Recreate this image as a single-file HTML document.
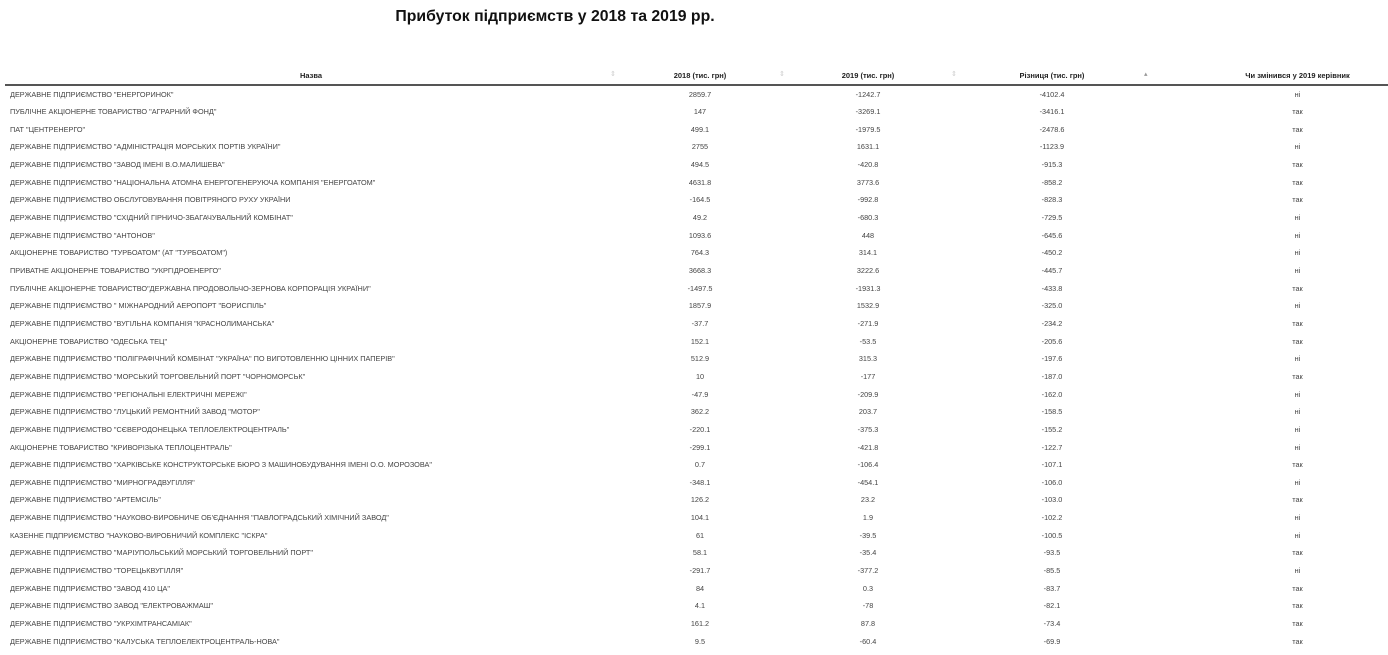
<!DOCTYPE html>
<html><head><meta charset="utf-8"><style>
body{margin:0;width:1388px;height:655px;background:#fff;font-family:"Liberation Sans",sans-serif;overflow:hidden;position:relative;color:#333}
.t{position:absolute;left:0;width:1110px;top:8px;text-align:center;font-size:15.8px;font-weight:bold;color:#111}
.h{position:absolute;top:71px;font-size:7.5px;font-weight:bold;color:#222;text-align:center}
.line{position:absolute;left:5px;right:0;top:84px;height:2px;background:#555}
.r{position:absolute;left:0;width:1388px;height:12px;font-size:7.3px;color:#444}
.r span{position:absolute;top:0;white-space:nowrap}
.c{text-align:center}
.s{position:absolute;top:70px;font-size:7px;color:#ccc}
</style></head><body>
<div class="t">Прибуток підприємств у 2018 та 2019 рр.</div>
<div class="h" style="left:5px;width:612px">Назва</div>
<div class="h" style="left:617px;width:166px">2018 (тис. грн)</div>
<div class="h" style="left:785px;width:166px">2019 (тис. грн)</div>
<div class="h" style="left:955px;width:194px">Різниця (тис. грн)</div>
<div class="h" style="left:1200px;width:195px">Чи змінився у 2019 керівник</div>
<div class="s" style="left:610px">⇕</div><div class="s" style="left:779px">⇕</div><div class="s" style="left:951px">⇕</div><div class="s" style="left:1144px;color:#999">▴</div>
<div class="line"></div>
<div id="rows"></div>
<script>
var d=[["ДЕРЖАВНЕ ПІДПРИЄМСТВО \"ЕНЕРГОРИНОК\"","2859.7","-1242.7","-4102.4","ні"],
["ПУБЛІЧНЕ АКЦІОНЕРНЕ ТОВАРИСТВО \"АГРАРНИЙ ФОНД\"","147","-3269.1","-3416.1","так"],
["ПАТ \"ЦЕНТРЕНЕРГО\"","499.1","-1979.5","-2478.6","так"],
["ДЕРЖАВНЕ ПІДПРИЄМСТВО \"АДМІНІСТРАЦІЯ МОРСЬКИХ ПОРТІВ УКРАЇНИ\"","2755","1631.1","-1123.9","ні"],
["ДЕРЖАВНЕ ПІДПРИЄМСТВО \"ЗАВОД ІМЕНІ В.О.МАЛИШЕВА\"","494.5","-420.8","-915.3","так"],
["ДЕРЖАВНЕ ПІДПРИЄМСТВО \"НАЦІОНАЛЬНА АТОМНА ЕНЕРГОГЕНЕРУЮЧА КОМПАНІЯ \"ЕНЕРГОАТОМ\"","4631.8","3773.6","-858.2","так"],
["ДЕРЖАВНЕ ПІДПРИЄМСТВО ОБСЛУГОВУВАННЯ ПОВІТРЯНОГО РУХУ УКРАЇНИ","-164.5","-992.8","-828.3","так"],
["ДЕРЖАВНЕ ПІДПРИЄМСТВО \"СХІДНИЙ ГІРНИЧО-ЗБАГАЧУВАЛЬНИЙ КОМБІНАТ\"","49.2","-680.3","-729.5","ні"],
["ДЕРЖАВНЕ ПІДПРИЄМСТВО \"АНТОНОВ\"","1093.6","448","-645.6","ні"],
["АКЦІОНЕРНЕ ТОВАРИСТВО \"ТУРБОАТОМ\" (АТ \"ТУРБОАТОМ\")","764.3","314.1","-450.2","ні"],
["ПРИВАТНЕ АКЦІОНЕРНЕ ТОВАРИСТВО \"УКРГІДРОЕНЕРГО\"","3668.3","3222.6","-445.7","ні"],
["ПУБЛІЧНЕ АКЦІОНЕРНЕ ТОВАРИСТВО\"ДЕРЖАВНА ПРОДОВОЛЬЧО-ЗЕРНОВА КОРПОРАЦІЯ УКРАЇНИ\"","-1497.5","-1931.3","-433.8","так"],
["ДЕРЖАВНЕ ПІДПРИЄМСТВО \" МІЖНАРОДНИЙ АЕРОПОРТ \"БОРИСПІЛЬ\"","1857.9","1532.9","-325.0","ні"],
["ДЕРЖАВНЕ ПІДПРИЄМСТВО \"ВУГІЛЬНА КОМПАНІЯ \"КРАСНОЛИМАНСЬКА\"","-37.7","-271.9","-234.2","так"],
["АКЦІОНЕРНЕ ТОВАРИСТВО \"ОДЕСЬКА ТЕЦ\"","152.1","-53.5","-205.6","так"],
["ДЕРЖАВНЕ ПІДПРИЄМСТВО \"ПОЛІГРАФІЧНИЙ КОМБІНАТ \"УКРАЇНА\" ПО ВИГОТОВЛЕННЮ ЦІННИХ ПАПЕРІВ\"","512.9","315.3","-197.6","ні"],
["ДЕРЖАВНЕ ПІДПРИЄМСТВО \"МОРСЬКИЙ ТОРГОВЕЛЬНИЙ ПОРТ \"ЧОРНОМОРСЬК\"","10","-177","-187.0","так"],
["ДЕРЖАВНЕ ПІДПРИЄМСТВО \"РЕГІОНАЛЬНІ ЕЛЕКТРИЧНІ МЕРЕЖІ\"","-47.9","-209.9","-162.0","ні"],
["ДЕРЖАВНЕ ПІДПРИЄМСТВО \"ЛУЦЬКИЙ РЕМОНТНИЙ ЗАВОД \"МОТОР\"","362.2","203.7","-158.5","ні"],
["ДЕРЖАВНЕ ПІДПРИЄМСТВО \"СЄВЕРОДОНЕЦЬКА ТЕПЛОЕЛЕКТРОЦЕНТРАЛЬ\"","-220.1","-375.3","-155.2","ні"],
["АКЦІОНЕРНЕ ТОВАРИСТВО \"КРИВОРІЗЬКА ТЕПЛОЦЕНТРАЛЬ\"","-299.1","-421.8","-122.7","ні"],
["ДЕРЖАВНЕ ПІДПРИЄМСТВО \"ХАРКІВСЬКЕ КОНСТРУКТОРСЬКЕ БЮРО З МАШИНОБУДУВАННЯ ІМЕНІ О.О. МОРОЗОВА\"","0.7","-106.4","-107.1","так"],
["ДЕРЖАВНЕ ПІДПРИЄМСТВО \"МИРНОГРАДВУГІЛЛЯ\"","-348.1","-454.1","-106.0","ні"],
["ДЕРЖАВНЕ ПІДПРИЄМСТВО \"АРТЕМСІЛЬ\"","126.2","23.2","-103.0","так"],
["ДЕРЖАВНЕ ПІДПРИЄМСТВО \"НАУКОВО-ВИРОБНИЧЕ ОБ'ЄДНАННЯ \"ПАВЛОГРАДСЬКИЙ ХІМІЧНИЙ ЗАВОД\"","104.1","1.9","-102.2","ні"],
["КАЗЕННЕ ПІДПРИЄМСТВО \"НАУКОВО-ВИРОБНИЧИЙ КОМПЛЕКС \"ІСКРА\"","61","-39.5","-100.5","ні"],
["ДЕРЖАВНЕ ПІДПРИЄМСТВО \"МАРІУПОЛЬСЬКИЙ МОРСЬКИЙ ТОРГОВЕЛЬНИЙ ПОРТ\"","58.1","-35.4","-93.5","так"],
["ДЕРЖАВНЕ ПІДПРИЄМСТВО \"ТОРЕЦЬКВУГІЛЛЯ\"","-291.7","-377.2","-85.5","ні"],
["ДЕРЖАВНЕ ПІДПРИЄМСТВО \"ЗАВОД 410 ЦА\"","84","0.3","-83.7","так"],
["ДЕРЖАВНЕ ПІДПРИЄМСТВО ЗАВОД \"ЕЛЕКТРОВАЖМАШ\"","4.1","-78","-82.1","так"],
["ДЕРЖАВНЕ ПІДПРИЄМСТВО \"УКРХІМТРАНСАМІАК\"","161.2","87.8","-73.4","так"],
["ДЕРЖАВНЕ ПІДПРИЄМСТВО \"КАЛУСЬКА ТЕПЛОЕЛЕКТРОЦЕНТРАЛЬ-НОВА\"","9.5","-60.4","-69.9","так"]];
var h="";
function esc(s){return s.replace(/&/g,"&amp;").replace(/</g,"&lt;")}
d.forEach(function(r,i){var y=89.5+i*17.65;
h+='<div class="r" style="top:'+y+'px"><span style="left:10px">'+esc(r[0])+'</span>'+
'<span class="c" style="left:617px;width:166px">'+r[1]+'</span>'+
'<span class="c" style="left:785px;width:166px">'+r[2]+'</span>'+
'<span class="c" style="left:955px;width:194px">'+r[3]+'</span>'+
'<span class="c" style="left:1200px;width:195px">'+r[4]+'</span></div>';});
document.getElementById("rows").innerHTML=h;
</script>
</body></html>
